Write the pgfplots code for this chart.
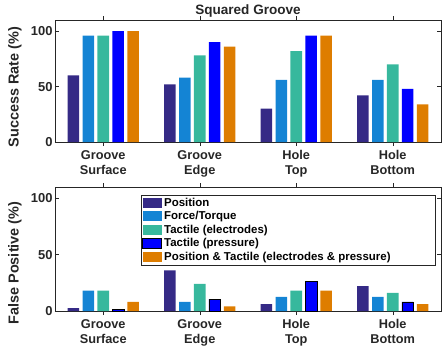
\documentclass[border=0pt]{standalone}
\usepackage{pgfplots}
\pgfplotsset{compat=1.18}
\usepackage{fontspec}
\setmainfont{Liberation Sans}
\setsansfont{Liberation Sans}
\definecolor{cpos}{RGB}{53,42,134}
\definecolor{cft}{RGB}{20,132,212}
\definecolor{cel}{RGB}{55,184,157}
\definecolor{cpr}{RGB}{0,0,255}
\definecolor{cpt}{RGB}{222,125,0}
\definecolor{axc}{RGB}{38,38,38}
\pgfplotsset{
  myaxis/.style={
    scale only axis, width=386bp, height=122bp,
    xmin=0.5, xmax=4.5, ymin=0, ymax=110,
    xtick={1,2,3,4},
    xticklabels={Groove\\Surface, Groove\\Edge, Hole\\Top, Hole\\Bottom},
    xticklabel style={align=center, font=\fontsize{12.8}{15}\selectfont\bfseries, text=axc, yshift=-1bp},
    ytick={0,50,100},
    yticklabel style={font=\fontsize{13}{13}\selectfont\bfseries, text=axc, xshift=1bp},
    /pgf/number format/assume math mode=true,
    tick align=inside, major tick length=4bp,
    every tick/.style={axc, thin},
    axis line style={axc, line width=0.8pt},
    ybar, bar width=0.12,
    every axis plot/.append style={draw=none},
    area legend,
  }
}
\begin{document}
\begin{tikzpicture}
\useasboundingbox (0,0) rectangle (443bp,-349bp);
\begin{axis}[myaxis, at={(55bp,-142bp)}, anchor=south west,
  title={Squared Groove}, title style={font=\fontsize{13.6}{14}\selectfont\bfseries, text=axc, yshift=-7bp},
  ylabel={Success Rate (\%)},
  every axis y label/.style={at={(axis description cs:-0.104,0.45)}, rotate=90, anchor=center, font=\fontsize{14.5}{15}\selectfont\bfseries, text=axc}]
\addplot[fill=cpos, bar shift=-0.31] coordinates {(1,60) (2,52) (3,30) (4,42)};
\addplot[fill=cft, bar shift=-0.155] coordinates {(1,96) (2,58) (3,56) (4,56)};
\addplot[fill=cel, bar shift=0] coordinates {(1,96) (2,78) (3,82) (4,70)};
\addplot[fill=cpr, bar shift=0.155] coordinates {(1,100) (2,90) (3,96) (4,48)};
\addplot[fill=cpt, bar shift=0.31] coordinates {(1,100) (2,86) (3,96) (4,34)};
\end{axis}
\begin{axis}[myaxis, at={(55bp,-311bp)}, anchor=south west, height=124bp,
  ylabel={False Positive (\%)},
  every axis y label/.style={at={(axis description cs:-0.104,0.387)}, rotate=90, anchor=center, font=\fontsize{14.5}{15}\selectfont\bfseries, text=axc},
  legend style={at={(0.223,0.937)}, anchor=north west, font=\fontsize{11.5}{12}\selectfont\bfseries,
    draw=axc, line width=0.6pt, inner sep=1bp, row sep=-0.3bp, cells={anchor=west}, text=black},
  legend image code/.code={\fill[#1] (0bp,-5bp) rectangle (19bp,5bp);}]
\addplot[fill=cpos, bar shift=-0.31] coordinates {(1,2.5) (2,36) (3,6) (4,22)};
\addplot[fill=cft, bar shift=-0.155] coordinates {(1,18) (2,8) (3,12.5) (4,12.5)};
\addplot[fill=cel, bar shift=0] coordinates {(1,18) (2,24) (3,18) (4,16)};
\addplot[fill=cpr, draw=black, line width=0.8pt, bar shift=0.155] coordinates {(1,1) (2,10.5) (3,26) (4,8)};
\addplot[fill=cpt, bar shift=0.31] coordinates {(1,8) (2,4) (3,18) (4,6)};
\legend{Position, Force/Torque, Tactile (electrodes), Tactile (pressure), \makebox[268bp][l]{Position \& Tactile (electrodes \& pressure)}}
\end{axis}
\end{tikzpicture}
\end{document}
